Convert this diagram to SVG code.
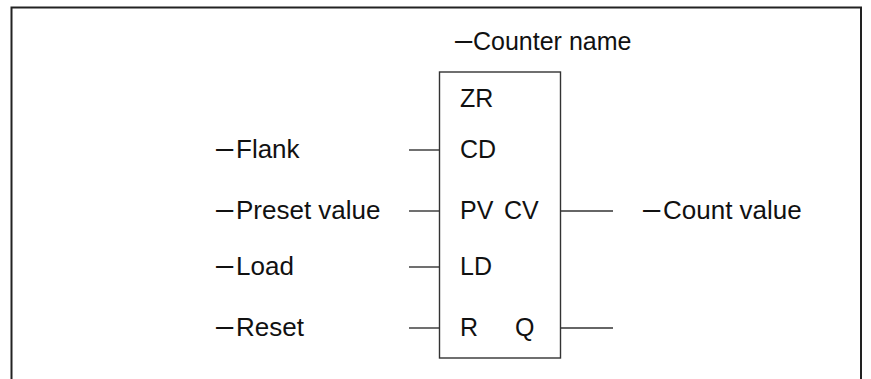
<svg xmlns="http://www.w3.org/2000/svg" width="871" height="379" viewBox="0 0 871 379">
<style>
text{font-family:"Liberation Sans",Arial,sans-serif;font-size:25px;fill:#111}
.lb{font-size:26px}
.d{font-size:31px}
.ln{stroke:#333;stroke-width:1.4;fill:none}
.frame{stroke:#222;stroke-width:2;fill:none}
</style>
<rect width="871" height="379" fill="#fff"/>
<path class="frame" d="M11.5,379 V7.5 H861 V379"/>
<g id="counter">
<rect class="ln" x="439.5" y="72" width="121" height="286" fill="#fff"/>
<text x="460" y="107">ZR</text>
<text x="460" y="158">CD</text>
<text x="460" y="219">PV</text>
<text x="504" y="219">CV</text>
<text x="460" y="275">LD</text>
<text x="460" y="336">R</text>
<text x="515" y="336">Q</text>
</g>
<g id="labels">
<text x="455" y="50"><tspan class="d">–</tspan><tspan x="473">Counter name</tspan></text>
<text class="lb" x="216" y="158"><tspan class="d">–</tspan><tspan x="236">Flank</tspan></text>
<text class="lb" x="216" y="219"><tspan class="d">–</tspan><tspan x="236">Preset value</tspan></text>
<text class="lb" x="216" y="275"><tspan class="d">–</tspan><tspan x="236">Load</tspan></text>
<text class="lb" x="216" y="336"><tspan class="d">–</tspan><tspan x="236">Reset</tspan></text>
<text class="lb" x="643" y="219"><tspan class="d">–</tspan><tspan x="663">Count value</tspan></text>
</g>
<g id="connectors">
<line class="ln" x1="409" y1="150" x2="439.5" y2="150"/>
<line class="ln" x1="409" y1="211" x2="439.5" y2="211"/>
<line class="ln" x1="409" y1="267" x2="439.5" y2="267"/>
<line class="ln" x1="409" y1="328" x2="439.5" y2="328"/>
<line class="ln" x1="560.5" y1="211" x2="613" y2="211"/>
<line class="ln" x1="560.5" y1="328" x2="613" y2="328"/>
</g>
</svg>
